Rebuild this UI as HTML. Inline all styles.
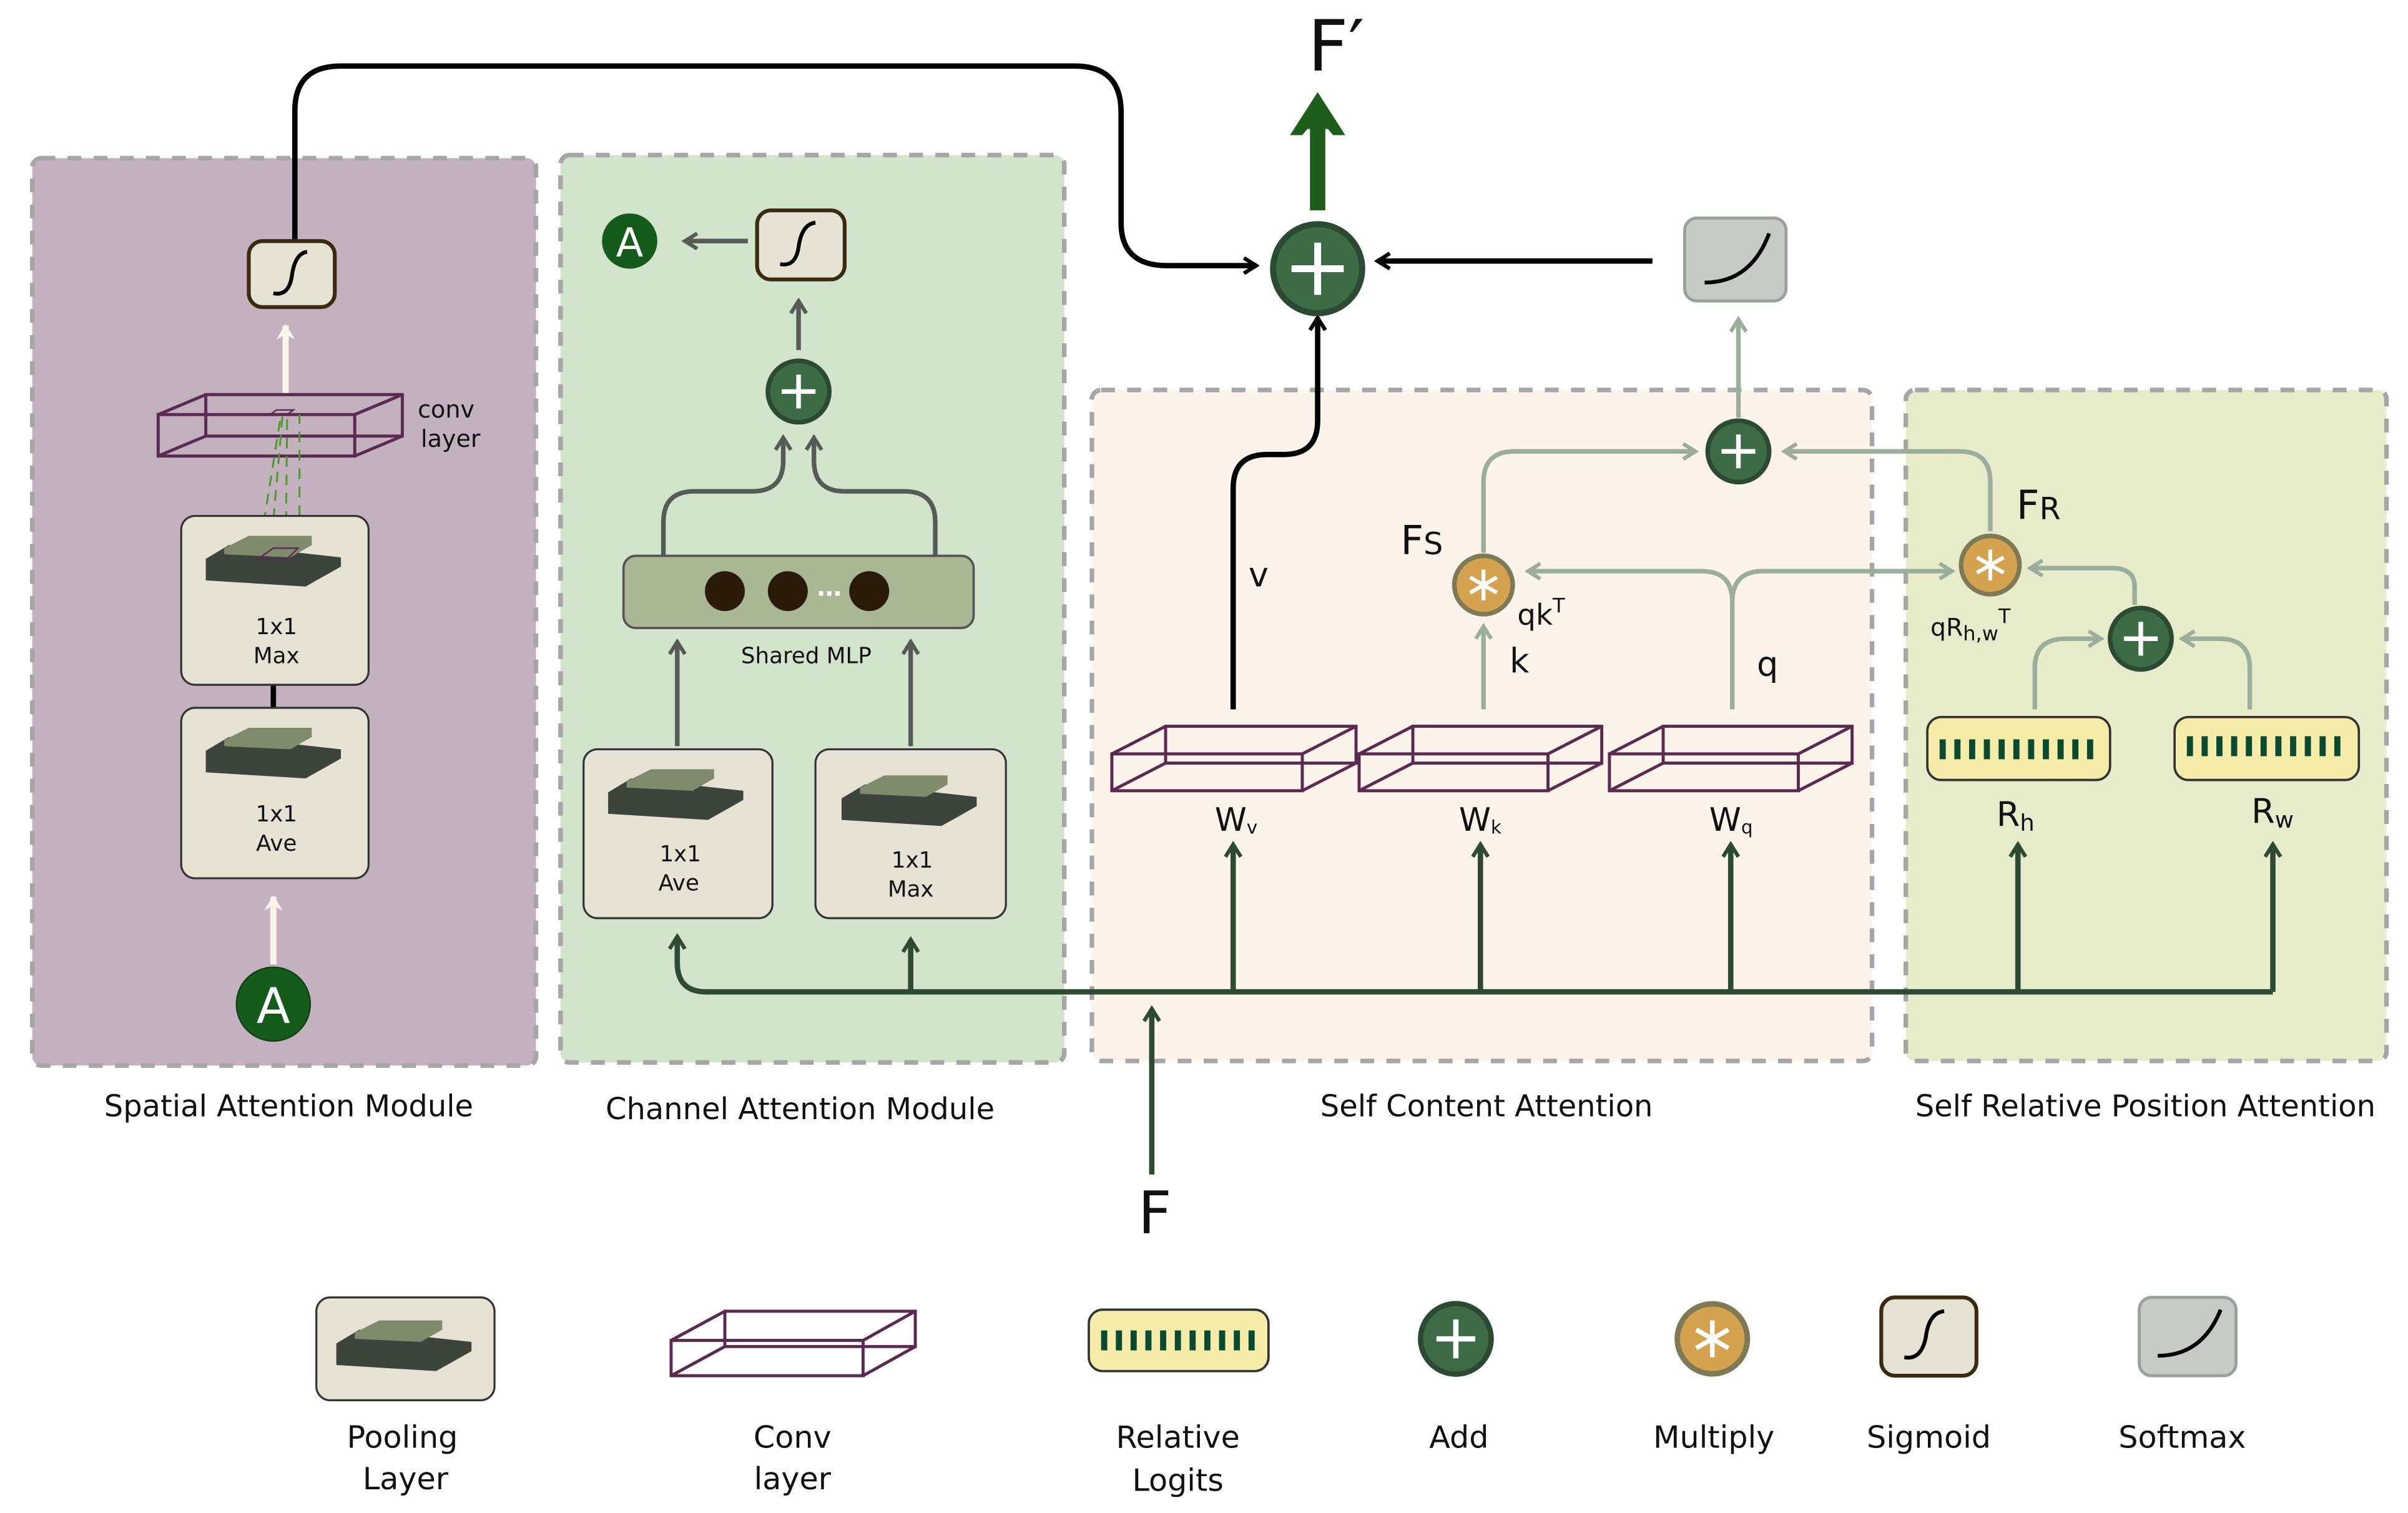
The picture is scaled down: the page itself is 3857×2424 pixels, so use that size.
<!DOCTYPE html>
<html><head><meta charset="utf-8"><style>
html,body{margin:0;padding:0;background:#fff;}
svg{display:block;}
text{font-family:"DejaVu Sans","Liberation Sans",sans-serif;fill:#111;}
</style></head><body>
<svg width="3857" height="2424" viewBox="0 0 1568 985.4" xmlns="http://www.w3.org/2000/svg">
<defs>
<marker id="mk" viewBox="0 0 12 12" refX="10" refY="6" markerWidth="12" markerHeight="12" markerUnits="userSpaceOnUse" orient="auto"><path d="M2,1 L10,6 L2,11" fill="none" stroke="#000" stroke-width="2.5"/></marker>
<marker id="mg" viewBox="0 0 12 12" refX="10" refY="6" markerWidth="12" markerHeight="12" markerUnits="userSpaceOnUse" orient="auto"><path d="M2,1 L10,6 L2,11" fill="none" stroke="#2f4a33" stroke-width="2.5"/></marker>
<marker id="ml" viewBox="0 0 12 12" refX="10" refY="6" markerWidth="12" markerHeight="12" markerUnits="userSpaceOnUse" orient="auto"><path d="M2,1 L10,6 L2,11" fill="none" stroke="#9bae9b" stroke-width="2.5"/></marker>
<marker id="mx" viewBox="0 0 12 12" refX="10" refY="6" markerWidth="12" markerHeight="12" markerUnits="userSpaceOnUse" orient="auto"><path d="M2,1 L10,6 L2,11" fill="none" stroke="#555c55" stroke-width="2.5"/></marker>
<marker id="mw" viewBox="0 0 12 12" refX="10" refY="6" markerWidth="12" markerHeight="12" markerUnits="userSpaceOnUse" orient="auto"><path d="M1,0 L11,6 L1,12 L4,6 Z" fill="#fcf3ea"/></marker>
<g id="pool">
<polygon points="-45,28 -30,19 43,27 43,33 20,46 -45,42" fill="#3c443b"/>
<polygon points="-33,21 -17,13 24,13 24,19 10,27 -33,25" fill="#7f8b6c"/>
</g>
<g id="addc"><circle r="20" fill="#3c6b45" stroke="#2b4a31" stroke-width="3"/><path d="M-11,0 H11 M0,-11 V11" stroke="#fff" stroke-width="3"/></g>
<g id="mulc"><circle r="19" fill="#d5a24f" stroke="#7e7a56" stroke-width="3"/><path d="M0,-10 V10 M-8.7,-5 L8.7,5 M-8.7,5 L8.7,-5" stroke="#fff" stroke-width="2.5"/></g>
</defs>

<rect x="21" y="103" width="328" height="591" rx="6" fill="#c3b1bf" stroke="#a6a6a6" stroke-width="3" stroke-dasharray="9 8"/>
<rect x="365" y="101" width="328" height="591" rx="6" fill="#d3e4cc" stroke="#a6a6a6" stroke-width="3" stroke-dasharray="9 8"/>
<rect x="711" y="254" width="508" height="437" rx="6" fill="#fcf3ea" stroke="#a6a6a6" stroke-width="3" stroke-dasharray="9 8"/>
<rect x="1241" y="254" width="313" height="437" rx="6" fill="#e7ecca" stroke="#a6a6a6" stroke-width="3" stroke-dasharray="9 8"/>

<text x="188" y="727" font-size="19.5" text-anchor="middle">Spatial Attention Module</text>
<text x="521" y="729" font-size="19.5" text-anchor="middle">Channel Attention Module</text>
<text x="968" y="727" font-size="19.5" text-anchor="middle">Self Content Attention</text>
<text x="1397" y="727" font-size="19.5" text-anchor="middle">Self Relative Position Attention</text>

<path d="M192,156 V72 Q192,43 222,43 H700 Q730,43 730,73 V145 Q730,173 760,173 H818" fill="none" stroke="#000" stroke-width="3.5" marker-end="url(#mk)"/>
<path d="M1076,170 H897" fill="none" stroke="#000" stroke-width="3.5" marker-end="url(#mk)"/>
<path d="M803,462 V318 Q803,296 825,296 H836 Q858,296 858,274 V207" fill="none" stroke="#000" stroke-width="3.5" marker-end="url(#mk)"/>
<path d="M858,137 V80" stroke="#1d5e1d" stroke-width="10"/>
<polygon points="840,88 858,60 876,88 868,88 858,76 848,88" fill="#1d5e1d"/>
<polygon points="846,84 858,62 870,84" fill="#1d5e1d"/>
<text x="870" y="46" font-size="46" text-anchor="middle">F′</text>
<g transform="translate(858,175)"><circle r="29" fill="#3c6b45" stroke="#2b4a31" stroke-width="4"/><path d="M-17,0 H17 M0,-17 V17" stroke="#fff" stroke-width="4.5"/></g>
<rect x="1097" y="142" width="66" height="54" rx="8" fill="#c6ccc5" stroke="#9aa09a" stroke-width="2"/>
<path d="M1110,184 Q1140,184 1152,152" fill="none" stroke="#000" stroke-width="2.5"/>

<rect x="162" y="157" width="56" height="43" rx="9" fill="#e6e3d5" stroke="#3a2a10" stroke-width="2.5"/>
<path d="M178,191 Q188,193 190,180 Q192,165 200,164" fill="none" stroke="#000" stroke-width="2.5"/>
<path d="M186,258 V212" stroke="#fcf3ea" stroke-width="4" marker-end="url(#mw)"/>
<g fill="none" stroke="#5a2a50" stroke-width="2">
<rect x="103" y="270" width="128" height="27"/><rect x="134" y="257" width="128" height="27"/>
<path d="M103,270 L134,257 M231,270 L262,257 M103,297 L134,284 M231,297 L262,284"/>
<path d="M176,270 L180,267 H191 L187,270 Z" stroke-width="1"/>
</g>
<path d="M168,364 L183,270 M176,362 L184,270 M186,364 L187,270 M195,360 L195,270" stroke="#4c9a2a" stroke-width="1.2" stroke-dasharray="7 5"/>
<text x="272" y="272" font-size="15.5">conv</text>
<text x="274" y="291" font-size="15.5">layer</text>
<path d="M178,446 V461" stroke="#000" stroke-width="3.5"/>
<rect x="118" y="336" width="122" height="110" rx="9" fill="#e6e3d5" stroke="#333" stroke-width="1.3"/>
<use href="#pool" x="179" y="336"/>
<path d="M168,364 L178,357 H194 L187,364 Z" fill="none" stroke="#5a2a50" stroke-width="1"/>
<text x="180" y="413" font-size="14.5" text-anchor="middle">1x1</text>
<text x="180" y="432" font-size="14.5" text-anchor="middle">Max</text>
<rect x="118" y="461" width="122" height="111" rx="9" fill="#e6e3d5" stroke="#333" stroke-width="1.3"/>
<use href="#pool" x="179" y="461"/>
<text x="180" y="535" font-size="14.5" text-anchor="middle">1x1</text>
<text x="180" y="554" font-size="14.5" text-anchor="middle">Ave</text>
<path d="M178,628 V584" stroke="#fcf3ea" stroke-width="4" marker-end="url(#mw)"/>
<circle cx="178" cy="654" r="24" fill="#155c1c" stroke="#0e4012" stroke-width="1"/>
<text x="178" y="666" font-size="32" text-anchor="middle" style="fill:#fff">A</text>

<circle cx="410" cy="157" r="18" fill="#155c1c"/>
<text x="410" y="167" font-size="26" text-anchor="middle" style="fill:#fff">A</text>
<path d="M487,157 H446" stroke="#555c55" stroke-width="3" marker-end="url(#mx)"/>
<rect x="493" y="137" width="57" height="45" rx="9" fill="#e6e3d5" stroke="#3a2a10" stroke-width="2.5"/>
<path d="M508,172 Q518,174 520,161 Q522,146 531,145" fill="none" stroke="#000" stroke-width="2.5"/>
<path d="M520,228 V196" stroke="#555c55" stroke-width="3" marker-end="url(#mx)"/>
<use href="#addc" x="520" y="255"/>
<path d="M432,362 V340 Q432,320 452,320 H490 Q510,320 510,300 V285" fill="none" stroke="#555c55" stroke-width="3" marker-end="url(#mx)"/>
<path d="M609,362 V340 Q609,320 589,320 H550 Q530,320 530,300 V285" fill="none" stroke="#555c55" stroke-width="3" marker-end="url(#mx)"/>
<rect x="406" y="362" width="228" height="47" rx="8" fill="#a9b795" stroke="#555" stroke-width="1.5"/>
<circle cx="472" cy="385" r="13" fill="#2a1a08"/><circle cx="513" cy="385" r="13" fill="#2a1a08"/><circle cx="566" cy="385" r="13" fill="#2a1a08"/>
<text x="540" y="388" font-size="16" text-anchor="middle" style="fill:#fff;font-weight:bold">…</text>
<text x="525" y="432" font-size="14.5" text-anchor="middle">Shared MLP</text>
<path d="M441,486 V418" stroke="#555c55" stroke-width="3" marker-end="url(#mx)"/>
<path d="M593,486 V418" stroke="#555c55" stroke-width="3" marker-end="url(#mx)"/>
<rect x="380" y="488" width="123" height="110" rx="9" fill="#e6e3d5" stroke="#333" stroke-width="1.3"/>
<use href="#pool" x="441" y="488"/>
<text x="443" y="561" font-size="14.5" text-anchor="middle">1x1</text>
<text x="442" y="580" font-size="14.5" text-anchor="middle">Ave</text>
<rect x="531" y="488" width="124" height="110" rx="9" fill="#e6e3d5" stroke="#333" stroke-width="1.3"/>
<use href="#pool" x="593" y="492"/>
<text x="594" y="565" font-size="14.5" text-anchor="middle">1x1</text>
<text x="593" y="584" font-size="14.5" text-anchor="middle">Max</text>

<path d="M1480,646 H460 Q441,646 441,627 V610" fill="none" stroke="#2f4a33" stroke-width="3.5" marker-end="url(#mg)"/>
<path d="M593,646 V612" stroke="#2f4a33" stroke-width="3.5" marker-end="url(#mg)"/>
<path d="M803,646 V550" stroke="#2f4a33" stroke-width="3.5" marker-end="url(#mg)"/>
<path d="M964,646 V550" stroke="#2f4a33" stroke-width="3.5" marker-end="url(#mg)"/>
<path d="M1127,646 V550" stroke="#2f4a33" stroke-width="3.5" marker-end="url(#mg)"/>
<path d="M1314,646 V550" stroke="#2f4a33" stroke-width="3.5" marker-end="url(#mg)"/>
<path d="M1480,646 V550" stroke="#2f4a33" stroke-width="3.5" marker-end="url(#mg)"/>
<path d="M750,765 V657" stroke="#2f4a33" stroke-width="3.5" marker-end="url(#mg)"/>
<text x="752" y="803" font-size="38" text-anchor="middle">F</text>

<g fill="none" stroke="#5a2a50" stroke-width="2">
<rect x="724" y="491" width="124" height="24"/><rect x="759" y="473" width="124" height="24"/>
<path d="M724,491 L759,473 M848,491 L883,473 M724,515 L759,497 M848,515 L883,497"/>
<rect x="885" y="491" width="123" height="24"/><rect x="920" y="473" width="123" height="24"/>
<path d="M885,491 L920,473 M1008,491 L1043,473 M885,515 L920,497 M1008,515 L1043,497"/>
<rect x="1048" y="491" width="123" height="24"/><rect x="1083" y="473" width="123" height="24"/>
<path d="M1048,491 L1083,473 M1171,491 L1206,473 M1048,515 L1083,497 M1171,515 L1206,497"/>
</g>
<text x="791" y="541" font-size="21">W<tspan font-size="12" dy="2">v</tspan></text>
<text x="950" y="541" font-size="21">W<tspan font-size="12" dy="2">k</tspan></text>
<text x="1113" y="541" font-size="21">W<tspan font-size="12" dy="2">q</tspan></text>
<text x="813" y="382" font-size="22">v</text>
<text x="983" y="438" font-size="22">k</text>
<text x="1144" y="440" font-size="22">q</text>

<g fill="none" stroke="#9bae9b" stroke-width="3">
<path d="M966,462 V408" marker-end="url(#ml)"/>
<path d="M1128,462 V392 Q1128,372 1108,372 H995" marker-end="url(#ml)"/>
<path d="M1128,392 Q1128,372 1148,372 H1271" marker-end="url(#ml)"/>
<path d="M966,360 V314 Q966,294 986,294 H1104" marker-end="url(#ml)"/>
<path d="M1296,346 V314 Q1296,294 1276,294 H1162" marker-end="url(#ml)"/>
<path d="M1132,272 V208" marker-end="url(#ml)"/>
<path d="M1390,394 V382 Q1390,370 1375,370 H1322" marker-end="url(#ml)"/>
<path d="M1325,462 V435 Q1325,416 1345,416 H1368" marker-end="url(#ml)"/>
<path d="M1465,462 V435 Q1465,416 1445,416 H1421" marker-end="url(#ml)"/>
</g>
<use href="#mulc" x="966" y="381"/>
<use href="#addc" x="1132" y="294"/>
<use href="#mulc" x="1296" y="368"/>
<use href="#addc" x="1394" y="416"/>
<text x="912" y="361" font-size="26">F<tspan font-size="20">S</tspan></text>
<text x="988" y="407" font-size="19">qk<tspan font-size="13" dy="-8">T</tspan></text>
<text x="1313" y="338" font-size="26">F<tspan font-size="20">R</tspan></text>
<text x="1257" y="414" font-size="16">qR<tspan font-size="13" dy="3">h,w</tspan><tspan font-size="13" dy="-11">T</tspan></text>

<rect x="1255" y="467" width="119" height="41" rx="9" fill="#f4eca8" stroke="#333" stroke-width="1.5"/>
<line x1="1263" y1="488" x2="1368" y2="488" stroke="#0b4a30" stroke-width="13" stroke-dasharray="4 5.6"/>
<rect x="1416" y="467" width="120" height="41" rx="9" fill="#f4eca8" stroke="#333" stroke-width="1.5"/>
<line x1="1424" y1="486" x2="1529" y2="486" stroke="#0b4a30" stroke-width="13" stroke-dasharray="4 5.6"/>
<text x="1300" y="538" font-size="22">R<tspan font-size="15" dy="3">h</tspan></text>
<text x="1466" y="536" font-size="22">R<tspan font-size="15" dy="3">w</tspan></text>

<rect x="206" y="845" width="116" height="67" rx="9" fill="#e6e3d5" stroke="#333" stroke-width="1.3"/>
<use href="#pool" x="264" y="847"/>
<text x="262" y="943" font-size="20" text-anchor="middle">Pooling</text>
<text x="264" y="970" font-size="20" text-anchor="middle">Layer</text>
<g fill="none" stroke="#5a2a50" stroke-width="2">
<rect x="437" y="873" width="125" height="23"/><rect x="472" y="854" width="124" height="23"/>
<path d="M437,873 L472,854 M562,873 L596,854 M437,896 L472,877 M562,896 L596,877"/>
</g>
<text x="516" y="943" font-size="20" text-anchor="middle">Conv</text>
<text x="516" y="970" font-size="20" text-anchor="middle">layer</text>
<rect x="709" y="853" width="117" height="40" rx="9" fill="#f4eca8" stroke="#333" stroke-width="1.5"/>
<line x1="717" y1="873" x2="820" y2="873" stroke="#0b4a30" stroke-width="13" stroke-dasharray="4 5.6"/>
<text x="767" y="943" font-size="20" text-anchor="middle">Relative</text>
<text x="767" y="971" font-size="20" text-anchor="middle">Logits</text>
<g transform="translate(948,872) scale(1.15)"><use href="#addc"/></g>
<text x="950" y="943" font-size="20" text-anchor="middle">Add</text>
<g transform="translate(1115,872) scale(1.2)"><use href="#mulc"/></g>
<text x="1116" y="943" font-size="20" text-anchor="middle">Multiply</text>
<rect x="1225" y="845" width="62" height="51" rx="9" fill="#e6e3d5" stroke="#3a2a10" stroke-width="2.5"/>
<path d="M1240,884 Q1251,886 1254,871 Q1256,855 1266,854" fill="none" stroke="#000" stroke-width="2.5"/>
<text x="1256" y="943" font-size="20" text-anchor="middle">Sigmoid</text>
<rect x="1393" y="845" width="63" height="51" rx="8" fill="#c6ccc5" stroke="#9aa09a" stroke-width="2"/>
<path d="M1405,883 Q1434,883 1446,853" fill="none" stroke="#000" stroke-width="2.5"/>
<text x="1421" y="943" font-size="20" text-anchor="middle">Softmax</text>
</svg>
</body></html>
